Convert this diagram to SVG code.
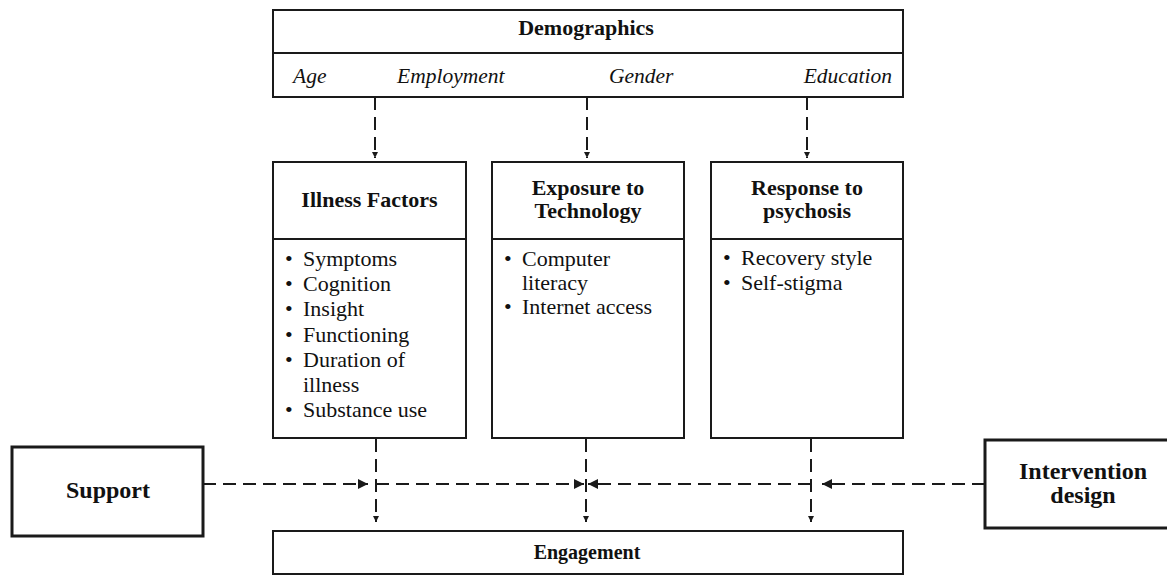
<svg xmlns="http://www.w3.org/2000/svg" width="1167" height="575" viewBox="0 0 1167 575">
  <style>
    text { font-family: "Liberation Serif", "Times New Roman", serif; fill: #111; }
    .box { fill: #fff; stroke: #1a1a1a; stroke-width: 2; }
    .thick { fill: #fff; stroke: #1a1a1a; stroke-width: 3; }
    .rule { stroke: #1a1a1a; stroke-width: 2; }
    .title { font-weight: bold; font-size: 22px; text-anchor: middle; }
    .side { font-weight: bold; font-size: 24px; text-anchor: middle; }
    .item { font-size: 22px; }
    .var { font-style: italic; font-size: 21.5px; }
    .dash { fill: none; stroke: #1a1a1a; stroke-width: 2; stroke-dasharray: 13 7; }
  </style>
  <defs>
    <marker id="small" viewBox="0 0 6 6" refX="6" refY="3" markerWidth="6" markerHeight="6" markerUnits="userSpaceOnUse" orient="auto">
      <path d="M0,0 L6,3 L0,6 z" fill="#1a1a1a"/>
    </marker>
    <marker id="big" viewBox="0 0 10 10" refX="10" refY="5" markerWidth="10" markerHeight="10" markerUnits="userSpaceOnUse" orient="auto">
      <path d="M0,0 L10,5 L0,10 z" fill="#1a1a1a"/>
    </marker>
  </defs>

  <!-- demographic variables -->
  <g id="demographics">
    <rect class="box" x="273" y="10" width="630" height="87"/>
    <line class="rule" x1="273" y1="53" x2="903" y2="53"/>
    <text class="title" x="586" y="35">Demographics</text>
    <text class="var" x="293" y="83">Age</text>
    <text class="var" x="397" y="83">Employment</text>
    <text class="var" x="609" y="83">Gender</text>
    <text class="var" x="892" y="83" text-anchor="end">Education</text>
  </g>

  <g id="illness-factors">
    <rect class="box" x="273" y="162" width="193" height="276"/>
    <line class="rule" x1="273" y1="239" x2="466" y2="239"/>
    <text class="title" x="369.5" y="207">Illness Factors</text>
    <g class="item">
      <text x="285" y="266">•</text><text x="303" y="266">Symptoms</text>
      <text x="285" y="291">•</text><text x="303" y="291">Cognition</text>
      <text x="285" y="316">•</text><text x="303" y="316">Insight</text>
      <text x="285" y="342">•</text><text x="303" y="342">Functioning</text>
      <text x="285" y="367">•</text><text x="303" y="367">Duration of</text>
      <text x="303" y="392">illness</text>
      <text x="285" y="417">•</text><text x="303" y="417">Substance use</text>
    </g>
  </g>

  <g id="exposure-to-technology">
    <rect class="box" x="492" y="162" width="192" height="276"/>
    <line class="rule" x1="492" y1="239" x2="684" y2="239"/>
    <text class="title" x="588" y="195">Exposure to</text>
    <text class="title" x="588" y="218">Technology</text>
    <g class="item">
      <text x="504" y="266">•</text><text x="522" y="266">Computer</text>
      <text x="522" y="290">literacy</text>
      <text x="504" y="314">•</text><text x="522" y="314">Internet access</text>
    </g>
  </g>

  <g id="response-to-psychosis">
    <rect class="box" x="711" y="162" width="192" height="276"/>
    <line class="rule" x1="711" y1="239" x2="903" y2="239"/>
    <text class="title" x="807" y="195">Response to</text>
    <text class="title" x="807" y="218">psychosis</text>
    <g class="item">
      <text x="723" y="265">•</text><text x="741" y="265">Recovery style</text>
      <text x="723" y="290">•</text><text x="741" y="290">Self-stigma</text>
    </g>
  </g>

  <g id="support">
    <rect class="thick" x="12" y="447" width="191" height="89"/>
    <text class="side" x="108" y="498">Support</text>
  </g>

  <g id="intervention-design">
    <rect class="thick" x="985" y="440" width="196" height="88"/>
    <text class="side" x="1083" y="479">Intervention</text>
    <text class="side" x="1083" y="503">design</text>
  </g>

  <g id="engagement">
    <rect class="box" x="273" y="531" width="630" height="43"/>
    <text class="title" x="587" y="559" style="font-size:20px">Engagement</text>
  </g>

  <!-- dashed influence arrows -->
  <g id="connectors">
    <path class="dash" d="M375,97 V158" marker-end="url(#small)"/>
    <path class="dash" d="M587,97 V158" marker-end="url(#small)"/>
    <path class="dash" d="M807,97 V158" marker-end="url(#small)"/>

    <path class="dash" d="M376,439 V522" marker-end="url(#small)"/>
    <path class="dash" d="M586,439 V522" marker-end="url(#small)"/>
    <path class="dash" d="M811,439 V522" marker-end="url(#small)"/>

    <path class="dash" d="M203,484 H368" marker-end="url(#big)"/>
    <path class="dash" d="M376,484 H584" marker-end="url(#big)"/>
    <path class="dash" d="M985,484 H822" marker-end="url(#big)"/>
    <path class="dash" d="M811,484 H588" marker-end="url(#big)"/>
  </g>
</svg>
